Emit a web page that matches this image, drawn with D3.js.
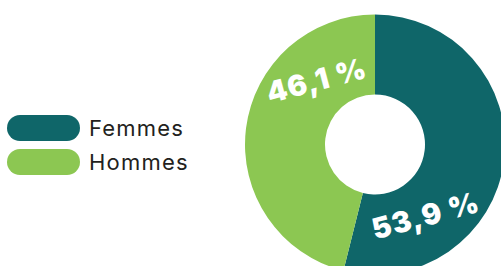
<!DOCTYPE html>
<html><head><meta charset="utf-8">
<script src="https://cdn.jsdelivr.net/npm/d3@7"></script>
<style>html,body{margin:0;padding:0;background:#fff;overflow:hidden}</style>
</head><body>
<svg id="c" width="501" height="266"></svg>
<script>
const categories = ["Femmes", "Hommes"];
const values = [53.9, 46.1];
const labels = ["53,9 %", "46,1 %"];
const colors = ["#0f6669", "#8cc752"];

const svg = d3.select("#c");
const cx = 375, cy = 144.5, rOuter = 130, rInner = 50;
const g = svg.append("g").attr("transform", `translate(${cx},${cy})`);
const pie = d3.pie().sort(null).value(d => d)(values);
const arc = d3.arc().innerRadius(rInner).outerRadius(rOuter);
g.selectAll("path").data(pie).enter().append("path")
  .attr("d", arc).attr("fill", (d, i) => colors[i]);

const labelR = 87, frac = 0.745;
g.selectAll("text.v").data(pie).enter().append("text")
  .attr("class", "v")
  .attr("transform", d => {
    const a = d.startAngle + frac * (d.endAngle - d.startAngle);
    const x = labelR * Math.sin(a), y = -labelR * Math.cos(a);
    return `translate(${x},${y}) rotate(-15)`;
  })
  .attr("text-anchor", "middle").attr("dominant-baseline", "central")
  .attr("fill", "#fff").attr("font-family", "Inter, 'Open Sans', sans-serif")
  .attr("font-weight", 900).attr("font-size", 29).attr("letter-spacing", 1)
  .attr("xml:space", "preserve")
  .text((d, i) => labels[i]);

const leg = svg.append("g");
categories.forEach((c, i) => {
  const y = 115 + i * 34;
  leg.append("rect").attr("x", 7).attr("y", y).attr("width", 73).attr("height", 26)
    .attr("rx", 13).attr("fill", colors[i]);
  leg.append("text").attr("x", 89).attr("y", y + 21)
    .attr("font-family", "Inter, sans-serif").attr("font-size", 22).attr("letter-spacing", 1.2)
    .attr("fill", "#231f20")
    .text(c);
});
</script>
</body></html>
